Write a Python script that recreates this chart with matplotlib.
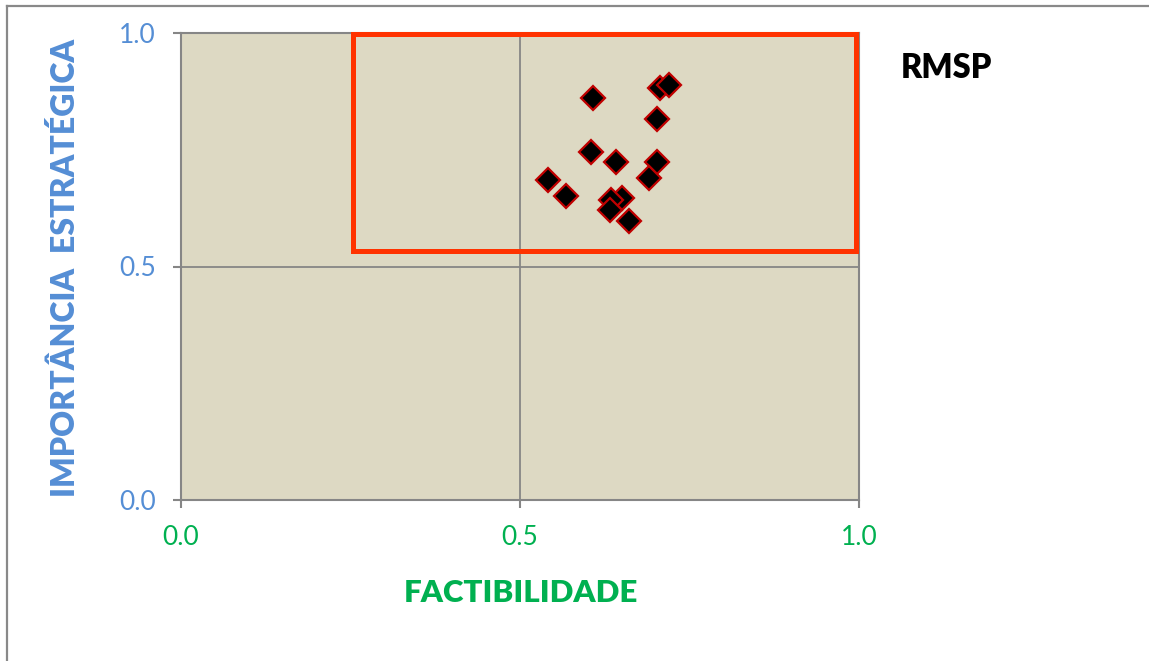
import matplotlib
matplotlib.use("Agg")
import matplotlib.pyplot as plt
from matplotlib.patches import Rectangle
from matplotlib.lines import Line2D

# Data
factibilidade = [0.607, 0.707, 0.720, 0.702, 0.605, 0.641, 0.702, 0.690,
                 0.541, 0.568, 0.651, 0.634, 0.633, 0.661]
importancia = [0.860, 0.882, 0.889, 0.815, 0.746, 0.724, 0.724, 0.690,
               0.685, 0.650, 0.646, 0.642, 0.621, 0.598]
x_ticks = [0.0, 0.5, 1.0]
y_ticks = [0.0, 0.5, 1.0]
tick_labels = ["0.0", "0.5", "1.0"]
highlight = (0.253, 0.533, 0.9956, 0.998)  # x0, y0, x1, y1

plt.rcParams['font.family'] = ['Lato', 'DejaVu Sans']

W, H = 1149, 661
fig = plt.figure(figsize=(W / 100, H / 100), dpi=100)
ax = fig.add_axes([181 / W, 1 - 500 / H, (859 - 181) / W, (500 - 33) / H])
ax.set_facecolor('#DDD9C3')
ax.set_xlim(0, 1)
ax.set_ylim(0, 1)

grey = '#868686'
for s in ax.spines.values():
    s.set_color(grey)
    s.set_linewidth(1.5)
ax.set_xticks(x_ticks)
ax.set_yticks(y_ticks)
ax.set_xticklabels(tick_labels)
ax.set_yticklabels(tick_labels)
ax.tick_params(axis='x', colors=grey, labelcolor='#00B050', labelsize=19,
               length=6, width=1.5, pad=12, direction='out')
ax.tick_params(axis='y', colors=grey, labelcolor='#558ED5', labelsize=19,
               length=6, width=1.5, pad=12, direction='out')
ax.grid(True, color=grey, linewidth=1.3)
ax.set_axisbelow(True)

ax.plot(factibilidade, importancia, linestyle='none', marker='D',
        markersize=12.5, markerfacecolor='black', markeredgecolor='#C00000',
        markeredgewidth=1.6, zorder=5)

x0, y0, x1, y1 = highlight
ax.add_patch(Rectangle((x0, y0), x1 - x0, y1 - y0, fill=False,
                       edgecolor='#FF3300', linewidth=3.6, clip_on=False,
                       zorder=4))

fig.text(521 / W, 1 - 593 / H, 'FACTIBILIDADE', ha='center', va='center',
         color='#00B050', fontsize=22.5, fontweight='heavy')
fig.text(65 / W, 1 - 268 / H, 'IMPORTÂNCIA  ESTRATÉGICA', rotation=90,
         ha='center', va='center', color='#558ED5', fontsize=23,
         fontweight='heavy')
fig.text(946 / W, 1 - 68 / H, 'RMSP', ha='center', va='center',
         color='black', fontsize=23.5, fontweight='heavy')

# Chart frame
fig.add_artist(Line2D([7 / W, 1], [1 - 5.5 / H, 1 - 5.5 / H],
                      transform=fig.transFigure, color='#898989', linewidth=1.6))
fig.add_artist(Line2D([7 / W, 7 / W], [0, 1 - 5.5 / H],
                      transform=fig.transFigure, color='#898989', linewidth=1.6))

fig.savefig('out.png', dpi=100)
